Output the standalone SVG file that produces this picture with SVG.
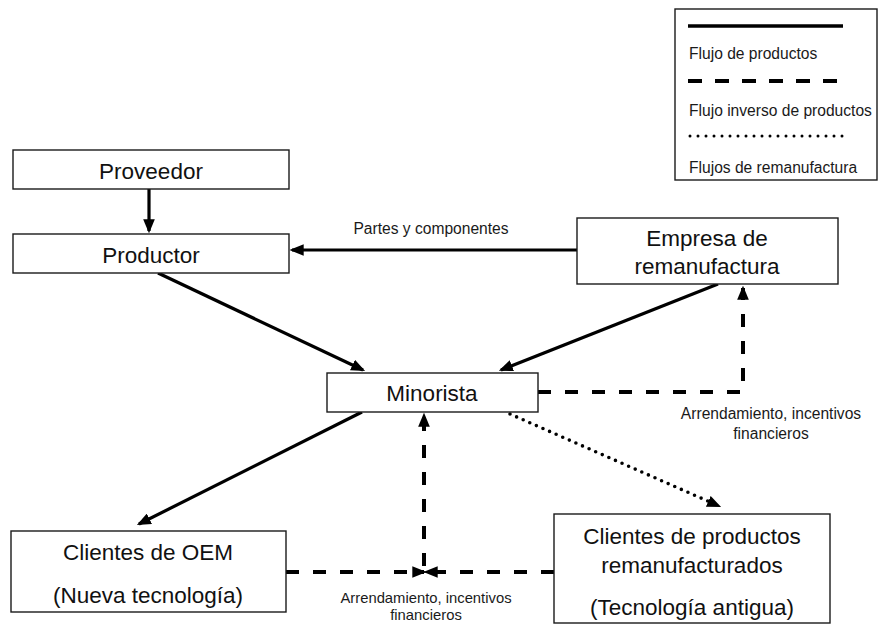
<svg xmlns="http://www.w3.org/2000/svg" width="882" height="624" viewBox="0 0 882 624">
  <style>
    .box { fill: #ffffff; stroke: #1a1a1a; stroke-width: 1.4; }
    .big { font-family: "Liberation Sans", Arial, sans-serif; font-size: 22.5px; fill: #111; text-anchor: middle; dominant-baseline: central; }
    .small { font-family: "Liberation Sans", Arial, sans-serif; font-size: 15.6px; fill: #1a1a1a; dominant-baseline: central; }
    .tight { font-size: 14.8px; }
    .mid { text-anchor: middle; }
    .solid { fill: none; stroke: #000; stroke-width: 3.2; }
    .dash { fill: none; stroke: #000; stroke-width: 4; stroke-dasharray: 13 14; }
    .dot { fill: none; stroke: #000; stroke-width: 3.6; stroke-linecap: round; stroke-dasharray: 0 7.2; }
  </style>
  <defs>
    <marker id="arrow" markerUnits="userSpaceOnUse" markerWidth="14" markerHeight="12" viewBox="0 0 12 10" refX="10" refY="5" orient="auto">
      <path d="M0,0 L12,5 L0,10 z" fill="#000"/>
    </marker>
  </defs>

  <rect width="882" height="624" fill="#ffffff"/>

  <!-- legend -->
  <g id="legend">
    <rect x="675" y="9" width="202" height="171" class="box"/>
    <line x1="688" y1="26" x2="843" y2="26" stroke="#000" stroke-width="3.5"/>
    <text x="689" y="53" class="small">Flujo de productos</text>
    <line x1="688" y1="81" x2="840" y2="81" stroke="#000" stroke-width="4" stroke-dasharray="14 13"/>
    <text x="689" y="110" class="small">Flujo inverso de productos</text>
    <line x1="690" y1="136" x2="843" y2="136" stroke="#000" stroke-width="3" stroke-linecap="round" stroke-dasharray="0 8"/>
    <text x="689" y="167" class="small">Flujos de remanufactura</text>
  </g>

  <!-- connectors -->
  <g id="connectors">
    <line x1="149" y1="189" x2="149" y2="231" class="solid" marker-end="url(#arrow)"/>
    <line x1="577" y1="250" x2="292" y2="250" class="solid" marker-end="url(#arrow)"/>
    <line x1="158" y1="273" x2="363" y2="370" class="solid" marker-end="url(#arrow)"/>
    <line x1="718" y1="284" x2="501" y2="370" class="solid" marker-end="url(#arrow)"/>
    <line x1="362" y1="412" x2="139" y2="524" class="solid" marker-end="url(#arrow)"/>
    <line x1="510" y1="414" x2="719" y2="506" class="dot" marker-end="url(#arrow)"/>
    <path d="M538,392 H743 V288" class="dash" marker-end="url(#arrow)"/>
    <line x1="424" y1="566" x2="424" y2="415" class="dash" marker-end="url(#arrow)"/>
    <line x1="286" y1="572" x2="424" y2="572" class="dash" marker-end="url(#arrow)"/>
    <line x1="554" y1="572" x2="426" y2="572" class="dash" marker-end="url(#arrow)"/>
    <text x="431" y="228" class="small mid">Partes y componentes</text>
    <text x="771" y="413" class="small mid">Arrendamiento, incentivos</text>
    <text x="771" y="433" class="small mid">financieros</text>
    <text x="426" y="598" class="small tight mid">Arrendamiento, incentivos</text>
    <text x="426" y="615" class="small tight mid">financieros</text>
  </g>

  <!-- nodes -->
  <g id="proveedor">
    <rect x="13" y="150" width="276" height="39" class="box"/>
    <text x="151" y="171" class="big">Proveedor</text>
  </g>
  <g id="productor">
    <rect x="13" y="234" width="276" height="39" class="box"/>
    <text x="151" y="255" class="big">Productor</text>
  </g>
  <g id="empresa">
    <rect x="577" y="218" width="261" height="66" class="box"/>
    <text x="707" y="238" class="big">Empresa de</text>
    <text x="707" y="266" class="big">remanufactura</text>
  </g>
  <g id="minorista">
    <rect x="327" y="373" width="211" height="39" class="box"/>
    <text x="432" y="393" class="big">Minorista</text>
  </g>
  <g id="clientes-oem">
    <rect x="11" y="531" width="275" height="81" class="box"/>
    <text x="148" y="552" class="big">Clientes de OEM</text>
    <text x="148" y="595" class="big">(Nueva tecnología)</text>
  </g>
  <g id="clientes-reman">
    <rect x="554" y="514" width="276" height="109" class="box"/>
    <text x="692" y="536" class="big">Clientes de productos</text>
    <text x="692" y="565" class="big">remanufacturados</text>
    <text x="692" y="607" class="big">(Tecnología antigua)</text>
  </g>
</svg>
